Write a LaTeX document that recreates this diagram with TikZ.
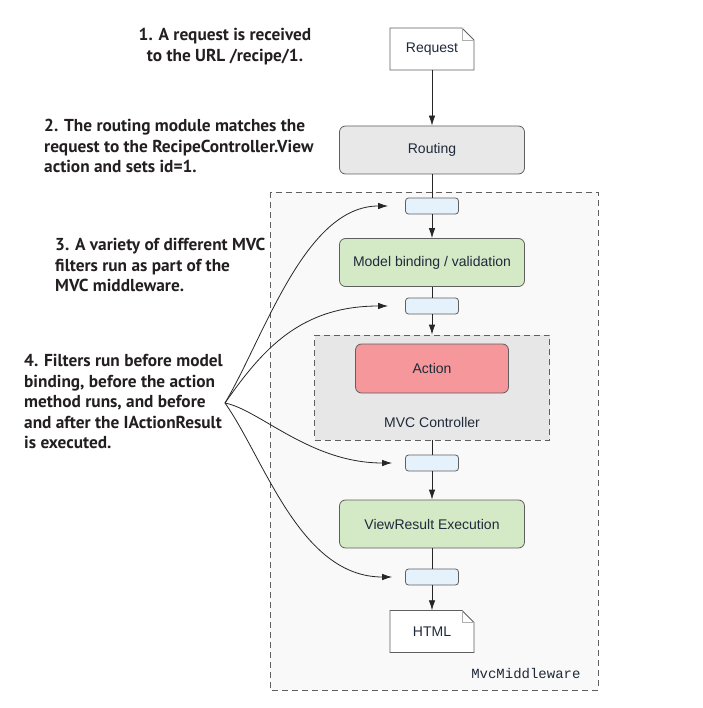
\documentclass[tikz,border=0pt]{standalone}
\usepackage{fontspec}
\setmainfont{Liberation Sans}
\setmonofont{Liberation Mono}
\newfontfamily\notefont{PT Sans}
\usetikzlibrary{arrows.meta,positioning}

\definecolor{linegray}{HTML}{5F5F5F}
\definecolor{routegray}{HTML}{E8E8E8}
\definecolor{filterblue}{HTML}{E6F2FB}
\definecolor{modelgreen}{HTML}{D4E9C6}
\definecolor{actionred}{HTML}{F5979B}
\definecolor{areagray}{HTML}{F9F9F9}
\definecolor{ctrlgray}{HTML}{E7E7E7}
\definecolor{nodetext}{HTML}{1F2A3A}
\definecolor{notetext}{HTML}{231F20}

\tikzset{
  box/.style={draw=linegray, line width=0.8pt, rounded corners=6pt, minimum width=185pt,
    minimum height=48pt, text=nodetext, font=\fontsize{14}{16}\selectfont},
  filterbox/.style={draw=linegray, line width=0.8pt, fill=filterblue, rounded corners=3pt,
    minimum width=53pt, minimum height=16pt},
  doctext/.style={minimum width=84pt, minimum height=42pt, text=nodetext,
    font=\fontsize{14}{16}\selectfont},
  docline/.style={draw=linegray, line width=0.8pt},
  foldline/.style={draw=linegray!50, line width=0.6pt},
  dashbox/.style={draw=linegray, line width=0.8pt, dash pattern=on 6pt off 4pt},
  note/.style={font=\notefont\bfseries\fontsize{17.3}{20.5}\selectfont, text=notetext,
    align=left, inner sep=0pt},
  flow/.style={draw=black!85, line width=0.8pt, -{Latex[length=10pt,width=6.5pt]}},
  link/.style={draw=black!85, line width=0.8pt},
}

% document sheet with folded corner
\newcommand{\docsheet}[1]{%
  \draw[docline, fill=white, shift={(#1)}] (-42,21) -- (-42,-21) -- (30,-21) -- (42,-9) -- (42,21) -- cycle;
  \draw[foldline, shift={(#1)}] (30,-21) -- (30,-9) -- (42,-9);
}

\begin{document}
\begin{tikzpicture}[x=1pt, y=-1pt]
  \useasboundingbox (0,0) rectangle (702,708);

  % MVC middleware area
  \draw[dashbox, fill=areagray] (270,192) rectangle (598,690);
  \node[anchor=east, font=\ttfamily\fontsize{14}{16}\selectfont, text=nodetext] (mvclabel) at (584,674) {MvcMiddleware};

  % request and routing
  \coordinate (requestc) at (432,49);
  \docsheet{requestc}
  \node[doctext] (request) at (requestc) {Request};
  \node[box, fill=routegray] (routing) at (432,150) {Routing};

  % filters and stages
  \node[filterbox] (f1) at (432,206) {};
  \node[box, fill=modelgreen] (model) at (432,262.5) {Model binding / validation};
  \node[filterbox] (f2) at (432,306) {};
  \node[dashbox, fill=ctrlgray, minimum width=235pt, minimum height=105pt] (ctrl) at (432,387.5) {};
  \node[box, fill=actionred, minimum width=153pt, minimum height=49pt] (action) at (432,368.5) {Action};
  \node[text=nodetext, font=\fontsize{14}{16}\selectfont] (ctrllabel) at (432,422) {MVC Controller};
  \node[filterbox] (f3) at (432,463) {};
  \node[box, fill=modelgreen] (view) at (432,524) {ViewResult Execution};
  \node[filterbox] (f4) at (432,577) {};
  \coordinate (htmlc) at (432,631.5);
  \docsheet{htmlc}
  \node[doctext] (html) at (htmlc) {HTML};

  % main flow
  \draw[flow] (request) -- (routing);
  \draw[link] (routing) -- (f1);
  \draw[flow] (f1) -- (model);
  \draw[link] (model) -- (f2);
  \draw[flow] (f2) -- (ctrl);
  \draw[link] (ctrl) -- (f3);
  \draw[flow] (f3) -- (view);
  \draw[link] (view) -- (f4);
  \draw[flow] (f4) -- (html);

  % notes
  \node[note, align=center] (note1) at (225,46.5) {1. A request is received\\to the URL /recipe/1.};
  \node[note, anchor=west] (note2) at (44,146) {2. The routing module matches the\\request to the RecipeController.View\\action and sets id=1.};
  \node[note, anchor=west] (note3) at (55,265) {3. A variety of different MVC\\filters run as part of the\\MVC middleware.};
  \node[note, anchor=west] (note4) at (24,401.5) {4. Filters run before model\\binding, before the action\\method runs, and before\\and after the IActionResult\\is executed.};

  % filter arrows
  \coordinate (src) at (225,403);
  \draw[flow, shorten >=17pt] (src) .. controls (265,335) and (305,206) .. (f1.west);
  \draw[flow, shorten >=17pt] (src) .. controls (262,350) and (300,306) .. (f2.west);
  \draw[flow, shorten >=13pt] (src) .. controls (260,410) and (310,463) .. (f3.west);
  \draw[flow, shorten >=13pt] (src) .. controls (265,460) and (300,577) .. (f4.west);
\end{tikzpicture}
\end{document}
